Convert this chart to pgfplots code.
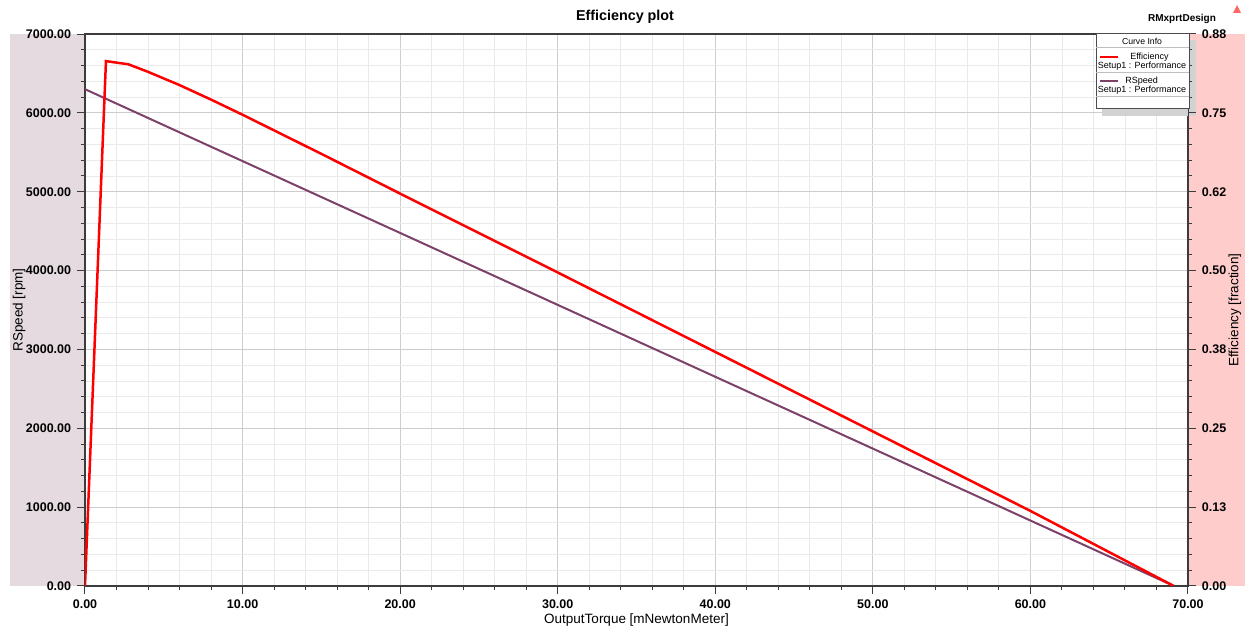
\documentclass[border=0pt]{standalone}
\usepackage{pgfplots}
\pgfplotsset{compat=1.18}
\usepackage{fontspec}
\setmainfont{Liberation Sans}
\definecolor{effred}{RGB}{255,0,0}
\definecolor{spdpurple}{RGB}{125,65,105}
\definecolor{leftshade}{RGB}{229,218,223}
\definecolor{rightshade}{RGB}{255,204,204}
\definecolor{majgrid}{RGB}{205,205,205}
\definecolor{mingrid}{RGB}{234,234,234}
\definecolor{axline}{RGB}{60,60,60}

\pgfplotstableread{
x y
0 6300
10 5388
20 4477
30 3565
40 2653
50 1742
60 830
69.1 0
}\speedtable

\pgfplotstableread{
x y
0 0
1.33 0.832
2.75 0.827
4 0.815
6 0.794
8 0.771
10 0.747
15 0.685
20 0.622
30 0.497
40 0.371
50 0.245
60 0.119
69.1 0
}\efftable

\pgfplotsset{
  common/.style={
    scale only axis, width=661.8pt, height=331.2pt,
    at={(0,0)}, anchor=south west,
    xmin=0, xmax=70,
    tick align=outside, major tick length=4.8pt, minor tick length=2.4pt,
    tick style={axline, line width=0.6pt},
    axis line style={axline, line width=0.8pt},
    ticklabel style={font=\bfseries\fontsize{7.5}{9}\selectfont},
    label style={font=\fontsize{8.1}{10}\selectfont},
    /pgf/number format/.cd, fixed, fixed zerofill, precision=2, 1000 sep={}, assume math mode=true,
  }
}

\begin{document}
\begin{tikzpicture}
\useasboundingbox (-51pt,-24.6pt) rectangle (699pt,351.6pt);
\begin{scope}[shift={(-51pt,351.6pt)},x=0.6pt,y=-0.6pt]
  \fill[leftshade] (10,34) rectangle (85,586);
  \fill[rightshade] (1188,34) rectangle (1245,586);
  \fill[gray!35] (1188,40) rectangle (1196,116);
\end{scope}

\begin{axis}[common,
  ymin=0, ymax=7000,
  xtick={0,10,...,70}, ytick={0,1000,...,7000},
  minor x tick num=4, minor y tick num=4,
  tick pos=left,
  grid=both,
  major grid style={majgrid, line width=0.5pt},
  minor grid style={mingrid, line width=0.5pt},
  xlabel={OutputTorque [mNewtonMeter]},
  ylabel={RSpeed [rpm]},
  xlabel style={at={(axis description cs:0.5,-0.0616)}, anchor=center},
  ylabel style={at={(axis description cs:-0.0598,0.5)}, anchor=center},
]
\addplot[spdpurple, line width=1.2pt] table[x=x,y=y] {\speedtable};
\end{axis}

\begin{axis}[common,
  ymin=0, ymax=0.875,
  axis x line=none, axis y line*=right,
  ytick={0,0.125,0.25,0.375,0.5,0.625,0.75,0.875},
  yticklabels={0.00,0.13,0.25,0.38,0.50,0.62,0.75,0.88},
  minor y tick num=4,
  ylabel={Efficiency [fraction]},
  ylabel style={at={(axis description cs:1.0426,0.5)}, anchor=center},
]
\addplot[effred, line width=1.5pt] table[x=x,y=y] {\efftable};
\end{axis}

\begin{scope}[shift={(-51pt,351.6pt)},x=0.6pt,y=-0.6pt]
  % title
  \node[font=\bfseries\fontsize{8.6}{10}\selectfont, inner sep=0] at (625,17) {Efficiency plot};
  % legend
  \fill[gray!35] (1102,108) rectangle (1188,116);
  \draw[black!70, line width=0.5pt, fill=white] (1096,33) rectangle (1189,108);
  \draw[black!25, line width=0.4pt] (1096,47.5) -- (1189,47.5);
  \draw[black!25, line width=0.4pt] (1096,72) -- (1189,72);
  \draw[black!25, line width=0.4pt] (1096,96) -- (1189,96);
  \node[font=\fontsize{5.2}{6}\selectfont, inner sep=0] at (1142,41) {Curve Info};
  \draw[effred, line width=0.9pt] (1100,57) -- (1118,57);
  \node[font=\fontsize{5.4}{6}\selectfont, inner sep=0, anchor=west] at (1130,57) {Efficiency};
  \node[font=\fontsize{5.4}{6}\selectfont, inner sep=0] at (1142,66) {Setup1 : Performance};
  \draw[spdpurple, line width=0.9pt] (1100,81) -- (1118,81);
  \node[font=\fontsize{5.4}{6}\selectfont, inner sep=0, anchor=west] at (1125,81) {RSpeed};
  \node[font=\fontsize{5.4}{6}\selectfont, inner sep=0] at (1142,90) {Setup1 : Performance};
  % header
  \node[font=\bfseries\fontsize{6}{7}\selectfont, inner sep=0] at (1182,19) {RMxprtDesign};
  \fill[red!60] (1233,13) -- (1237,5) -- (1241,13) -- cycle;
\end{scope}
\end{tikzpicture}
\end{document}
